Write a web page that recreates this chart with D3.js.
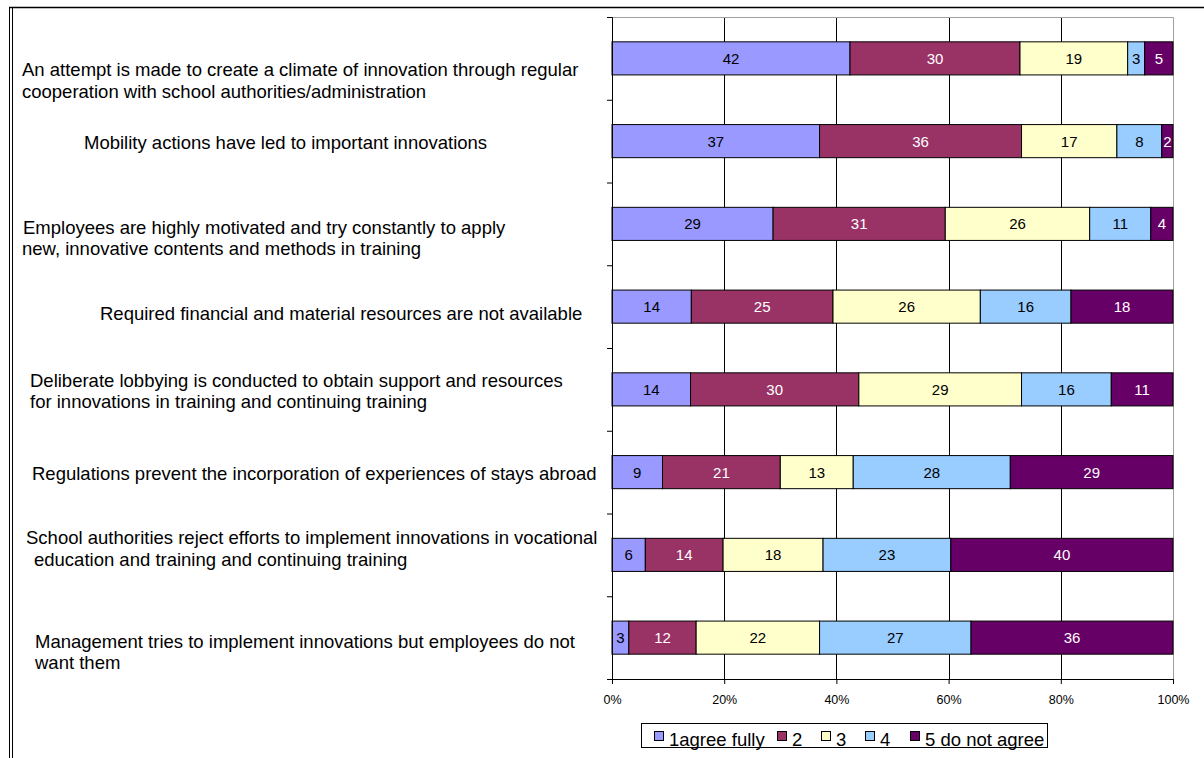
<!DOCTYPE html>
<html>
<head>
<meta charset="utf-8">
<script src="https://cdn.jsdelivr.net/npm/d3@7"></script>
<style>
    body { margin: 0; background: #fff; }
    svg { display: block; font-family: "Liberation Sans", Arial, sans-serif; }
</style>
</head>
<body>
<div id="chart_container"></div>
<script>
// statements (one per bar, top to bottom), already wrapped as in the original
var categories = [
    ["An attempt is made to create a climate of innovation through regular", "cooperation with school authorities/administration"],
    ["Mobility actions have led to important innovations"],
    ["Employees are highly motivated and try constantly to apply", "new, innovative contents and methods in training"],
    ["Required financial and material resources are not available"],
    ["Deliberate lobbying is conducted to obtain support and resources", "for innovations in training and continuing training"],
    ["Regulations prevent the incorporation of experiences of stays abroad"],
    ["School authorities reject efforts to implement innovations in vocational", "education and training and continuing training"],
    ["Management tries to implement innovations but employees do not", "want them"]
];

var seriesNames = ["1agree fully", "2", "3", "4", "5 do not agree"];

var agreeFully = [42, 37, 29, 14, 14, 9, 6, 3];
var answer2    = [30, 36, 31, 25, 30, 21, 14, 12];
var answer3    = [19, 17, 26, 26, 29, 13, 18, 22];
var answer4    = [3, 8, 11, 16, 16, 28, 23, 27];
var doNotAgree = [5, 2, 4, 18, 11, 29, 40, 36];

var tickValues = [0, 0.2, 0.4, 0.6, 0.8, 1];

var colors = ["#9999ff", "#993366", "#ffffcc", "#99ccff", "#660066"];
var labelColors = ["#000", "#fff", "#000", "#000", "#fff"];

// where excel put the wrapped category text (x of each line, baseline offset from band centre)
var labelLayout = [
    {x: [22, 22], dy: 18, lh: 22},
    {x: [84], dy: 8, lh: 0},
    {x: [23, 22], dy: 10, lh: 21},
    {x: [100], dy: 13, lh: 0},
    {x: [30, 30], dy: -2, lh: 21},
    {x: [32], dy: 8, lh: 0},
    {x: [26, 34], dy: -11, lh: 22},
    {x: [35, 35], dy: 10, lh: 21}
];
var legendX = [654, 777, 821, 865, 910];

var rows = categories.map(function(c, i) {
    return {
        i: i,
        s0: agreeFully[i], s1: answer2[i], s2: answer3[i], s3: answer4[i], s4: doNotAgree[i]
    };
});
var keys = ["s0", "s1", "s2", "s3", "s4"];

var width = 1204, height = 758;
var plot = {left: 612, right: 1173, top: 17, bottom: 679};

var svg = d3.select("#chart_container")
    .append("svg")
    .attr("width", width)
    .attr("height", height);

svg.append("rect").attr("width", width).attr("height", height).attr("fill", "#fff");

// outer frame (top line, double line on the left)
svg.append("line")
    .attr("x1", 9).attr("x2", width).attr("y1", 7.5).attr("y2", 7.5)
    .attr("stroke", "#000").attr("stroke-width", 1.5);
[9.5, 12.5].forEach(function(xx) {
    svg.append("line")
        .attr("x1", xx).attr("x2", xx).attr("y1", 7).attr("y2", height)
        .attr("stroke", "#000").attr("stroke-width", 1);
});

var x = d3.scaleLinear().domain([0, 1]).range([plot.left, plot.right]);
var y = d3.scaleBand()
    .domain(d3.range(categories.length))
    .range([plot.top, plot.bottom])
    .paddingInner(0.6)
    .paddingOuter(0.3);
var yEdge = d3.scaleLinear().domain([0, categories.length]).range([plot.top, plot.bottom]);

// gridlines
svg.append("g")
    .selectAll("line")
    .data(tickValues.slice(1, -1))
    .enter()
    .append("line")
    .attr("x1", function(d) { return Math.round(x(d)) + 0.5; })
    .attr("x2", function(d) { return Math.round(x(d)) + 0.5; })
    .attr("y1", plot.top)
    .attr("y2", plot.bottom)
    .attr("stroke", "#000");

// plot area border (top and right)
svg.append("path")
    .attr("d", "M" + x(0) + "," + (plot.top + 0.5) + "H" + (x(1) + 0.5) + "V" + plot.bottom)
    .attr("fill", "none")
    .attr("stroke", "#a0a0a0");

var stack = d3.stack().keys(keys).offset(d3.stackOffsetExpand);
var stacked = stack(rows);

var layers = svg.append("g")
    .selectAll("g")
    .data(stacked)
    .enter()
    .append("g")
    .attr("fill", function(d, i) { return colors[i]; });

layers.selectAll("rect")
    .data(function(d) { return d; })
    .enter()
    .append("rect")
    .attr("x", function(d) { return x(d[0]); })
    .attr("y", function(d) { return y(d.data.i); })
    .attr("width", function(d) { return x(d[1]) - x(d[0]); })
    .attr("height", y.bandwidth())
    .attr("stroke", "#000")
    .attr("stroke-width", 1);

layers.selectAll("text")
    .data(function(d, i) {
        return d.map(function(p) { return {p: p, k: i}; });
    })
    .enter()
    .append("text")
    .attr("x", function(d) { return (x(d.p[0]) + x(d.p[1])) / 2; })
    .attr("y", function(d) { return y(d.p.data.i) + y.bandwidth() / 2; })
    .attr("dy", "0.36em")
    .attr("text-anchor", "middle")
    .attr("fill", function(d) { return labelColors[d.k]; })
    .style("font-size", "15px")
    .text(function(d) { return d.p.data[keys[d.k]]; });

// x axis
var xAxis = d3.axisBottom(x)
    .tickValues(tickValues)
    .tickFormat(d3.format(".0%"))
    .tickSize(5)
    .tickPadding(11);
var gx = svg.append("g")
    .attr("transform", "translate(0," + plot.bottom + ")")
    .call(xAxis);
gx.select(".domain").attr("stroke", "#000");
gx.selectAll("text").style("font-size", "12.5px").attr("fill", "#000").style("font-family", "inherit");

// y axis (ticks between categories)
var yAxis = d3.axisLeft(yEdge)
    .tickValues(d3.range(categories.length + 1))
    .tickFormat("")
    .tickSize(5);
svg.append("g")
    .attr("transform", "translate(" + plot.left + ",0)")
    .call(yAxis)
    .select(".domain").attr("stroke", "#000");

// category labels
var labels = svg.append("g").style("font-size", "18.5px").attr("fill", "#000");
categories.forEach(function(lines, i) {
    var lay = labelLayout[i];
    var base = y(i) + y.bandwidth() / 2 + lay.dy;
    lines.forEach(function(line, j) {
        labels.append("text")
            .attr("x", lay.x[j])
            .attr("y", base + j * lay.lh)
            .text(line);
    });
});

// legend
var legend = svg.append("g");
legend.append("rect")
    .attr("x", 641.5).attr("y", 723.5)
    .attr("width", 406).attr("height", 24)
    .attr("fill", "#fff").attr("stroke", "#000");

var items = legend.selectAll("g.item")
    .data(seriesNames)
    .enter()
    .append("g")
    .attr("class", "item")
    .attr("transform", function(d, i) { return "translate(" + legendX[i] + ",0)"; });

items.append("rect")
    .attr("x", 0.5).attr("y", 731.5)
    .attr("width", 9).attr("height", 9)
    .attr("fill", function(d, i) { return colors[i]; })
    .attr("stroke", "#000");

items.append("text")
    .attr("x", 15)
    .attr("y", 745.5)
    .style("font-size", "18.5px")
    .text(function(d) { return d; });
</script>
</body>
</html>
